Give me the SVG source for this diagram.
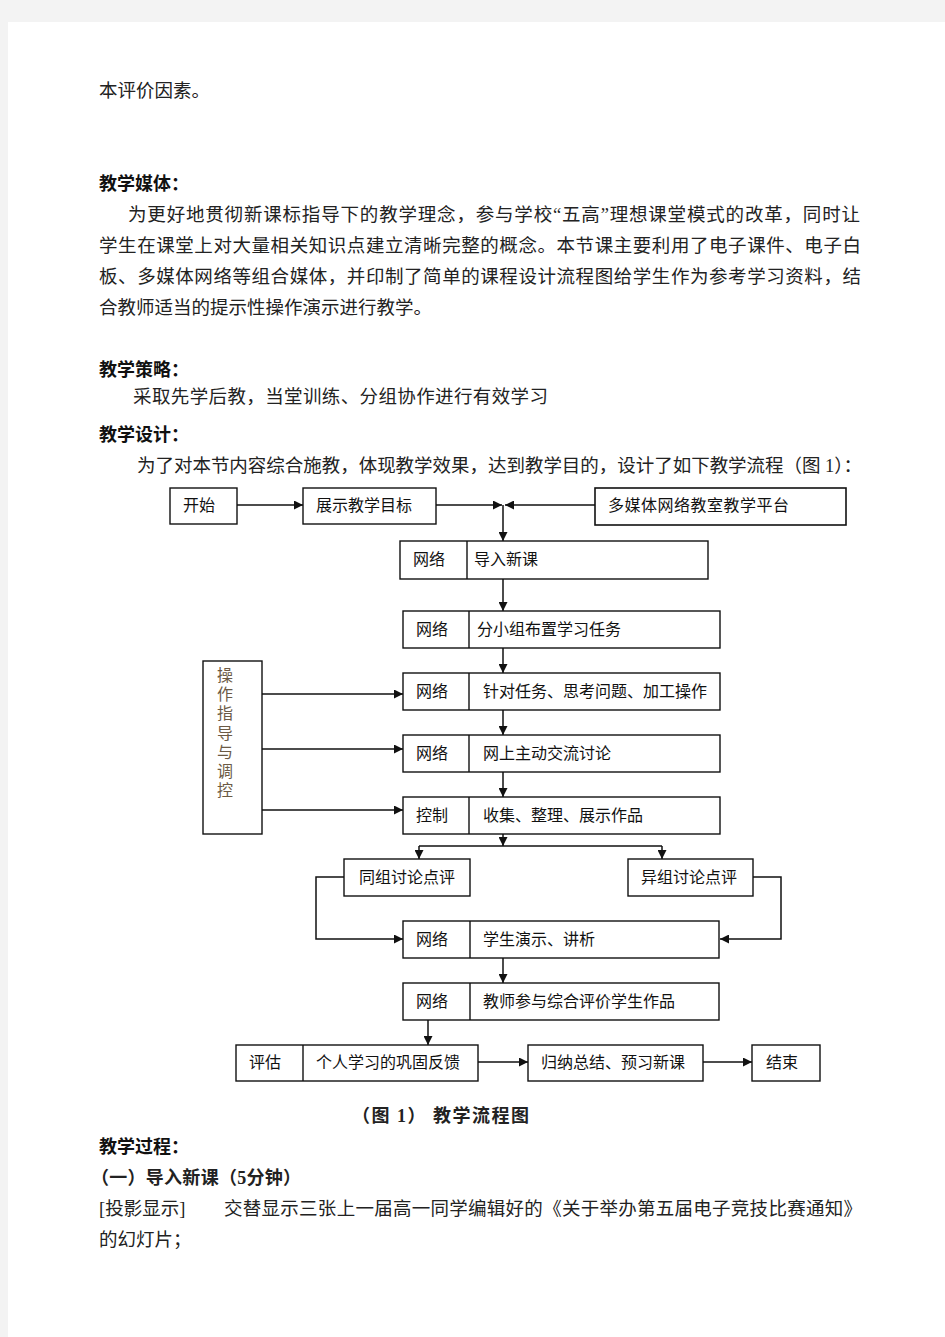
<svg xmlns="http://www.w3.org/2000/svg" width="945" height="1337" viewBox="0 0 945 1337">
<style>
.body{font-family:"Liberation Serif","Noto Sans CJK SC",serif;font-size:18.5px;fill:#222}
.head{font-family:"Liberation Sans","Noto Sans CJK SC",sans-serif;font-size:18px;font-weight:bold;fill:#111}
.cap{font-family:"Liberation Serif","Noto Sans CJK SC",serif;font-size:18px;font-weight:bold;fill:#222}
.box{fill:#fff;stroke:#111;stroke-width:1.4}
.div{stroke:#111;stroke-width:1.4}
.lbl{font-family:"Liberation Sans","Noto Sans CJK SC",sans-serif;font-size:16px;fill:#111}
.vt{font-family:"Liberation Sans","Noto Sans CJK SC",sans-serif;font-size:16px;fill:#6b5a45;text-anchor:middle}
.ln{fill:none;stroke:#111;stroke-width:1.5}
.ar{fill:none;stroke:#111;stroke-width:1.5;marker-end:url(#ah)}
</style>
<defs>
<marker id="ah" viewBox="0 0 10 10" refX="10" refY="5" markerWidth="9" markerHeight="9" markerUnits="userSpaceOnUse" orient="auto">
<path d="M0,0 L10,5 L0,10 z" fill="#111"/>
</marker>
</defs>
<rect x="0" y="0" width="945" height="1337" fill="#f3f3f3"/>
<rect x="8" y="22" width="937" height="1315" fill="#fff"/>

<g id="text-top">
<text class="body" x="99" y="97">本评价因素。</text>
<text class="head" x="99" y="190">教学媒体：</text>
<text class="body" x="128" y="221" textLength="732" lengthAdjust="spacing">为更好地贯彻新课标指导下的教学理念，参与学校“五高”理想课堂模式的改革，同时让</text>
<text class="body" x="99" y="252" textLength="762" lengthAdjust="spacing">学生在课堂上对大量相关知识点建立清晰完整的概念。本节课主要利用了电子课件、电子白</text>
<text class="body" x="99" y="283" textLength="762" lengthAdjust="spacing">板、多媒体网络等组合媒体，并印制了简单的课程设计流程图给学生作为参考学习资料，结</text>
<text class="body" x="99" y="314">合教师适当的提示性操作演示进行教学。</text>
<text class="head" x="99" y="376">教学策略：</text>
<text class="body" x="133" y="403" textLength="415" lengthAdjust="spacing">采取先学后教，当堂训练、分组协作进行有效学习</text>
<text class="head" x="99" y="441">教学设计：</text>
<text class="body" x="137" y="472" textLength="725" lengthAdjust="spacing">为了对本节内容综合施教，体现教学效果，达到教学目的，设计了如下教学流程（图 1）：</text>
</g>

<g id="connectors">
<line class="ar" x1="237" y1="505" x2="303" y2="505"/>
<line class="ar" x1="436" y1="505" x2="502" y2="505"/>
<line class="ar" x1="595" y1="505" x2="505" y2="505"/>
<line class="ar" x1="503" y1="505" x2="503" y2="541"/>
<line class="ar" x1="503" y1="579" x2="503" y2="611"/>
<line class="ar" x1="503" y1="648" x2="503" y2="673"/>
<line class="ar" x1="503" y1="710" x2="503" y2="735"/>
<line class="ar" x1="503" y1="772" x2="503" y2="797"/>
<line class="ar" x1="262" y1="694" x2="403" y2="694"/>
<line class="ar" x1="262" y1="749" x2="403" y2="749"/>
<line class="ar" x1="262" y1="810" x2="403" y2="810"/>
<line class="ar" x1="503" y1="834" x2="503" y2="846"/>
<line class="ln" x1="419" y1="846" x2="662" y2="846"/>
<line class="ar" x1="419" y1="846" x2="419" y2="859"/>
<line class="ar" x1="662" y1="846" x2="662" y2="859"/>
<polyline class="ar" points="344,877 316,877 316,939 403,939"/>
<polyline class="ar" points="753,877 781,877 781,939 720,939"/>
<line class="ar" x1="503" y1="958" x2="503" y2="983"/>
<line class="ar" x1="428" y1="1020" x2="428" y2="1045"/>
<line class="ar" x1="478" y1="1062" x2="528" y2="1062"/>
<line class="ar" x1="703" y1="1062" x2="752" y2="1062"/>
</g>

<g id="n-start">
<rect class="box" x="170" y="488" width="67" height="36"/>
<text class="lbl" x="183" y="511">开始</text>
</g>
<g id="n-goal">
<rect class="box" x="303" y="488" width="133" height="36"/>
<text class="lbl" x="316" y="511">展示教学目标</text>
</g>
<g id="n-platform">
<rect class="box" x="595" y="488" width="251" height="37" style="stroke-width:1.6"/>
<text class="lbl" x="608" y="511" textLength="181" lengthAdjust="spacing">多媒体网络教室教学平台</text>
</g>
<g id="n-intro">
<rect class="box" x="400" y="541" width="308" height="38"/>
<line class="div" x1="467" y1="541" x2="467" y2="579"/>
<text class="lbl" x="413" y="565">网络</text>
<text class="lbl" x="474" y="565">导入新课</text>
</g>
<g id="n-task">
<rect class="box" x="403" y="611" width="317" height="37"/>
<line class="div" x1="469" y1="611" x2="469" y2="648"/>
<text class="lbl" x="416" y="635">网络</text>
<text class="lbl" x="477" y="635">分小组布置学习任务</text>
</g>
<g id="n-think">
<rect class="box" x="403" y="673" width="317" height="37"/>
<line class="div" x1="469" y1="673" x2="469" y2="710"/>
<text class="lbl" x="416" y="697">网络</text>
<text class="lbl" x="483" y="697">针对任务、思考问题、加工操作</text>
</g>
<g id="n-discuss">
<rect class="box" x="403" y="735" width="317" height="37"/>
<line class="div" x1="469" y1="735" x2="469" y2="772"/>
<text class="lbl" x="416" y="759">网络</text>
<text class="lbl" x="483" y="759">网上主动交流讨论</text>
</g>
<g id="n-collect">
<rect class="box" x="403" y="797" width="317" height="37"/>
<line class="div" x1="469" y1="797" x2="469" y2="834"/>
<text class="lbl" x="416" y="821">控制</text>
<text class="lbl" x="483" y="821">收集、整理、展示作品</text>
</g>
<g id="n-guide">
<rect class="box" x="203" y="661" width="59" height="173"/>
<text class="vt" x="225" y="681">操</text>
<text class="vt" x="225" y="700">作</text>
<text class="vt" x="225" y="719">指</text>
<text class="vt" x="225" y="739">导</text>
<text class="vt" x="225" y="758">与</text>
<text class="vt" x="225" y="777">调</text>
<text class="vt" x="225" y="796">控</text>
</g>
<g id="n-same">
<rect class="box" x="344" y="859" width="126" height="37"/>
<text class="lbl" x="359" y="883">同组讨论点评</text>
</g>
<g id="n-diff">
<rect class="box" x="628" y="859" width="125" height="37"/>
<text class="lbl" x="641" y="883">异组讨论点评</text>
</g>
<g id="n-present">
<rect class="box" x="403" y="921" width="316" height="37"/>
<line class="div" x1="470" y1="921" x2="470" y2="958"/>
<text class="lbl" x="416" y="945">网络</text>
<text class="lbl" x="483" y="945">学生演示、讲析</text>
</g>
<g id="n-teacher">
<rect class="box" x="403" y="983" width="316" height="37"/>
<line class="div" x1="470" y1="983" x2="470" y2="1020"/>
<text class="lbl" x="416" y="1007">网络</text>
<text class="lbl" x="483" y="1007">教师参与综合评价学生作品</text>
</g>
<g id="n-eval">
<rect class="box" x="236" y="1045" width="242" height="36"/>
<line class="div" x1="303" y1="1045" x2="303" y2="1081"/>
<text class="lbl" x="249" y="1068">评估</text>
<text class="lbl" x="316" y="1068">个人学习的巩固反馈</text>
</g>
<g id="n-summary">
<rect class="box" x="528" y="1045" width="175" height="36"/>
<text class="lbl" x="541" y="1068">归纳总结、预习新课</text>
</g>
<g id="n-end">
<rect class="box" x="752" y="1045" width="68" height="36"/>
<text class="lbl" x="766" y="1068">结束</text>
</g>

<g id="text-bottom">
<text class="cap" x="352" y="1122" textLength="177" lengthAdjust="spacing">（图 1）  教学流程图</text>
<text class="head" x="99" y="1153">教学过程：</text>
<text class="cap" x="91" y="1184" textLength="210" lengthAdjust="spacing">（一）导入新课（5分钟）</text>
<text class="body" x="99" y="1215">[投影显示]</text>
<text class="body" x="224" y="1215" textLength="638" lengthAdjust="spacing">交替显示三张上一届高一同学编辑好的《关于举办第五届电子竞技比赛通知》</text>
<text class="body" x="99" y="1246">的幻灯片；</text>
</g>
</svg>
